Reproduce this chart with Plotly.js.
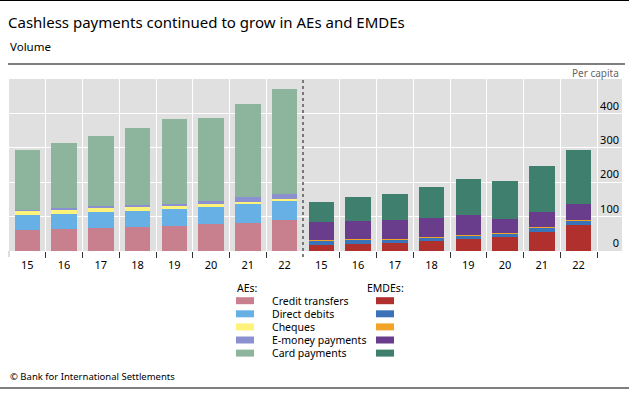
<!DOCTYPE html>
<html>
<head>
<meta charset="utf-8">
<script src="https://cdn.plot.ly/plotly-3.0.1.min.js"></script>
<style>html,body{margin:0;padding:0;background:#fff;}#chart{width:629px;height:396px;}</style>
</head>
<body>
<div id="chart"></div>
<script>
// ---- Data ----
const years = ["15","16","17","18","19","20","21","22"];
const seriesNames = ["Credit transfers","Direct debits","Cheques","E-money payments","Card payments"];

const aeCredit  = [60, 63, 66, 69, 73, 77.5, 82.5, 90];
const aeDirect  = [44, 45, 47.5, 47.5, 48.5, 50.5, 54.5, 54.5];
const aeCheques = [12.5, 11.5, 10.5, 10.5, 8.5, 8, 5.5, 6];
const aeEmoney  = [3.5, 5, 6, 6, 7, 8.5, 13.5, 15.5];
const aeCard    = [173, 189, 205, 225, 247.5, 241, 270, 304];

const emCredit  = [18.5, 21.5, 23.5, 28, 34, 41, 56, 76];
const emDirect  = [9.5, 9.5, 8.5, 10, 9, 9.5, 12, 12.5];
const emCheques = [3, 3, 4, 2, 3, 3, 3, 3];
const emEmoney  = [53.5, 54.5, 54.5, 57, 57.5, 39, 41, 44.5];
const emCard    = [59, 68, 76.5, 89, 105.5, 110, 135, 157];

const yTicks = [0, 100, 200, 300, 400];

// ---- Styles ----
const aeColors = ["#c8808f", "#66b0e6", "#fdf27a", "#8a90d0", "#8db59e"];
const emColors = ["#b0302e", "#3b73b9", "#f2a428", "#6a3d8c", "#3f7f6e"];
const FONT = "Noto Sans, Open Sans, sans-serif";

const nY = years.length;
const aeX = years.map((_, i) => i + 0.5);
const emX = years.map((_, i) => nY + i + 0.5);
const aeData = [aeCredit, aeDirect, aeCheques, aeEmoney, aeCard];
const emData = [emCredit, emDirect, emCheques, emEmoney, emCard];

const traces = [];
aeData.forEach((vals, k) => traces.push({
  type: "bar", x: aeX, y: vals, name: "AEs " + seriesNames[k],
  marker: {color: aeColors[k], line: {width: 0}}, width: 0.7, showlegend: false, hoverinfo: "y"
}));
emData.forEach((vals, k) => traces.push({
  type: "bar", x: emX, y: vals, name: "EMDEs " + seriesNames[k],
  marker: {color: emColors[k], line: {width: 0}}, width: 0.7, showlegend: false, hoverinfo: "y"
}));
// invisible trace to activate the label axis
traces.push({type: "scatter", x: [0.5], y: [0], xaxis: "x2", mode: "markers",
  marker: {opacity: 0}, showlegend: false, hoverinfo: "skip"});

// ---- Layout geometry (pixels -> paper) ----
const W = 629, H = 396;
const M = {l: 9, r: 7, t: 79, b: 145};
const PW = W - M.l - M.r, PH = H - M.t - M.b;
const px = v => (v - M.l) / PW;
const py = v => (H - M.b - v) / PH;

const allCats = years.concat(years);
const boundaries = [];
for (let i = 1; i <= 2 * nY; i++) if (i !== nY) boundaries.push(i);

const shapes = [
  // separator between AEs and EMDEs
  {type: "line", xref: "x", yref: "paper", x0: nY, x1: nY, y0: py(257), y1: 1,
   line: {color: "#555", width: 1.5, dash: "dot"}},
  // rules
  {type: "line", xref: "paper", yref: "paper", x0: px(0), x1: px(629), y0: py(0.5), y1: py(0.5), line: {color: "#000", width: 1.2}},
  {type: "line", xref: "paper", yref: "paper", x0: px(8), x1: px(625), y0: py(64), y1: py(64), line: {color: "#000", width: 1.2}},
  {type: "line", xref: "paper", yref: "paper", x0: px(0), x1: px(629), y0: py(388), y1: py(388), line: {color: "#000", width: 1.2}},
  // left boundary tick
  {type: "line", xref: "paper", yref: "paper", x0: 0, x1: 0, y0: py(251), y1: py(257), line: {color: "#bbb", width: 1}}
];

const annotations = [
  {text: "Volume", xref: "paper", yref: "paper", x: px(8), y: py(47), xanchor: "left", yanchor: "middle",
   showarrow: false, font: {family: FONT, size: 11.5, color: "#000"}},
  {text: "Per capita", xref: "paper", yref: "paper", x: px(621), y: py(73), xanchor: "right", yanchor: "middle",
   showarrow: false, font: {family: FONT, size: 10, color: "#666"}},
  {text: "AEs:", xref: "paper", yref: "paper", x: px(235), y: py(288), xanchor: "left", yanchor: "middle",
   showarrow: false, font: {family: FONT, size: 10.5, color: "#000"}},
  {text: "EMDEs:", xref: "paper", yref: "paper", x: px(365), y: py(288), xanchor: "left", yanchor: "middle",
   showarrow: false, font: {family: FONT, size: 10.5, color: "#000"}},
  {text: "© Bank for International Settlements", xref: "paper", yref: "paper", x: px(8), y: py(376), xanchor: "left", yanchor: "middle",
   showarrow: false, font: {family: FONT, size: 9.5, color: "#000"}}
];

seriesNames.forEach((nm, k) => {
  const cy = 300.7 + k * 13.1;
  shapes.push({type: "rect", xref: "paper", yref: "paper", x0: px(236), x1: px(254), y0: py(cy - 3.5), y1: py(cy + 3.5),
    fillcolor: aeColors[k], line: {width: 0}});
  shapes.push({type: "rect", xref: "paper", yref: "paper", x0: px(376), x1: px(394), y0: py(cy - 3.5), y1: py(cy + 3.5),
    fillcolor: emColors[k], line: {width: 0}});
  annotations.push({text: nm, xref: "paper", yref: "paper", x: px(270), y: py(cy), xanchor: "left", yanchor: "middle",
    showarrow: false, font: {family: FONT, size: 10.5, color: "#000"}});
});

const layout = {
  width: W, height: H,
  margin: M,
  paper_bgcolor: "#fff",
  plot_bgcolor: "#e0e0e0",
  barmode: "stack",
  bargap: 0.3,
  font: {family: FONT, color: "#000"},
  title: {text: "Cashless payments continued to grow in AEs and EMDEs", xref: "container", yref: "container",
    x: 8 / W, xanchor: "left", y: 1 - 23 / H, yanchor: "middle", font: {family: FONT, size: 15, color: "#000"}},
  xaxis: {
    range: [0, PW / 36.75], tickmode: "array", tickvals: boundaries, ticktext: boundaries.map(() => ""),
    showgrid: true, gridcolor: "#fff", gridwidth: 1, ticks: "outside", ticklen: 6, tickcolor: "#333", tickwidth: 1,
    zeroline: false, showline: false, showticklabels: false, fixedrange: true
  },
  xaxis2: {
    overlaying: "x", matches: "x", side: "bottom", tickmode: "array",
    tickvals: aeX.concat(emX), ticktext: allCats, showgrid: false, zeroline: false, showline: false,
    ticks: "outside", ticklen: 4, tickcolor: "rgba(0,0,0,0)", tickfont: {family: FONT, size: 11, color: "#000"}
  },
  yaxis: {
    range: [0, 500], side: "right", tickmode: "array", tickvals: yTicks, ticktext: yTicks.map(String),
    ticklabelposition: "inside top", showgrid: true, gridcolor: "#fff", gridwidth: 1, zeroline: false,
    showline: false, ticks: "", tickfont: {family: FONT, size: 11, color: "#000"}, fixedrange: true
  },
  shapes: shapes,
  annotations: annotations
};

Plotly.newPlot("chart", traces, layout, {displayModeBar: false, staticPlot: true});
</script>
</body>
</html>
